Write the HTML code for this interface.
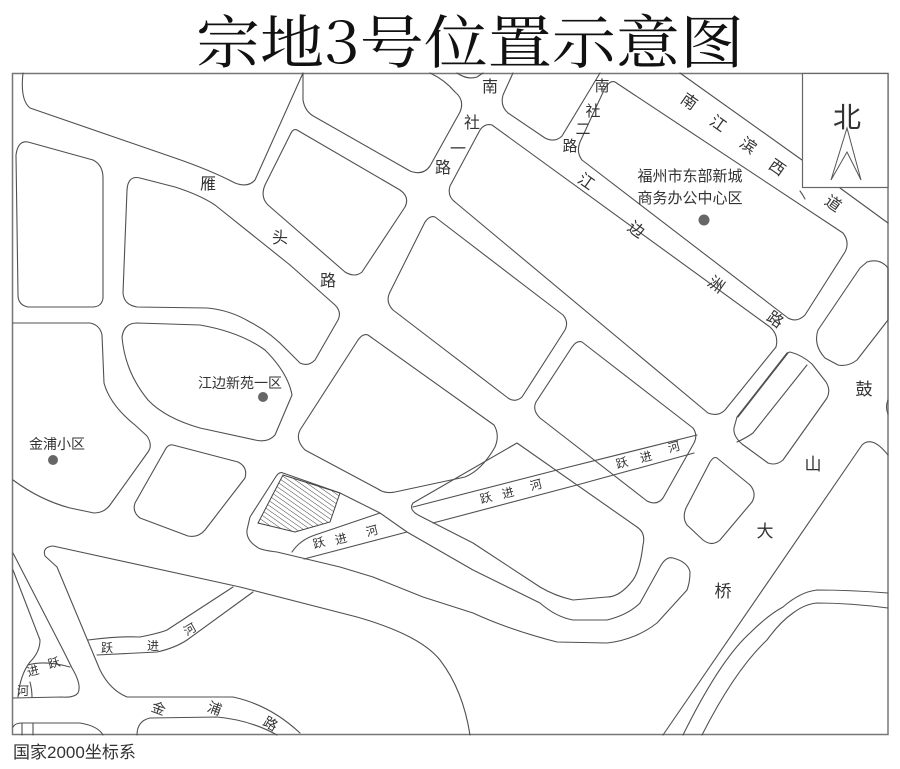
<!DOCTYPE html>
<html><head><meta charset="utf-8"><style>
html,body{margin:0;padding:0;background:#fff;}
svg{display:block;}
.l{fill:none;stroke:#505050;stroke-width:1.1;stroke-linejoin:round;stroke-linecap:round;}
.t{font-family:"Liberation Sans","Noto Sans CJK SC",sans-serif;fill:#333;}
</style></head><body>
<svg width="900" height="769" viewBox="0 0 900 769" xmlns="http://www.w3.org/2000/svg">
<defs>
<pattern id="h" width="4" height="4" patternUnits="userSpaceOnUse" patternTransform="rotate(-55)">
<line x1="0" y1="0" x2="0" y2="4" stroke="#444" stroke-width="1"/>
</pattern>
</defs>
<rect width="900" height="769" fill="#fff"/>
<text x="470" y="63" text-anchor="middle" font-family="'Noto Serif CJK SC','Liberation Serif',serif" font-size="58" textLength="548" lengthAdjust="spacingAndGlyphs" fill="#111">宗地3号位置示意图</text>

<!-- frame -->
<rect x="12.5" y="73.5" width="875.5" height="661" fill="none" stroke="#777" stroke-width="1.5"/>

<g class="l">
<!-- top-left block -->
<path d="M23,73 Q20,100 30,108 L175,158 Q210,170 235,183 Q248,188 255,180 L303,73"/>
<!-- left block -->
<path d="M28,142 L93,160 Q103,165 103,178 L103,298 Q102,307 92,307 L28,307 Q18,305 18,295 L16,155 Q18,140 28,142 Z"/>
<!-- 雁 lower block -->
<path d="M140,178 L175,187 Q200,195 215,205 L290,265 L335,305 Q342,312 338,320 L315,360 Q308,367 300,363 L287,350 Q270,332 250,322 Q230,310 207,308 L137,307 Q124,305 123,293 L127,190 Q128,175 140,178 Z"/>
<!-- 江边新苑 block -->
<path d="M137,323 L200,325 Q240,332 265,350 Q288,373 292,395 L275,435 Q268,443 255,440 L200,428 Q165,418 148,400 Q125,372 122,337 Q124,323 137,323 Z"/>
<!-- 金浦小区 block -->
<path d="M13,323 L90,323 Q100,325 102,335 L104,383 Q110,405 135,425 L147,436 Q153,445 148,452 L110,505 Q104,513 94,513 L70,508 Q40,500 13,480"/>
<!-- block N -->
<path d="M173,445 L238,462 Q248,467 245,478 L205,530 Q198,538 188,536 L140,518 Q132,512 135,503 L165,450 Q168,444 173,445 Z"/>
<!-- top-middle block -->
<path d="M303,73 L303,100 Q305,112 315,117 L410,171 Q423,176 430,166 L460,112 Q465,100 455,92 Q445,80 430,73"/>
<path d="M457,73 Q467,80 477,77 L483,73"/>
<!-- block Q -->
<path d="M297,130 L400,190 Q410,197 405,207 L362,272 Q355,278 345,272 L268,205 Q260,197 265,185 L290,135 Q293,128 297,130 Z"/>
<!-- block C -->
<path d="M435,217 L563,315 Q569,322 565,330 L522,397 Q515,403 508,398 L393,310 Q385,302 390,292 L425,222 Q430,215 435,217 Z"/>
<!-- block D -->
<path d="M368,335 L494,425 Q500,435 495,447 Q482,470 465,477 L395,492 Q385,494 378,489 L305,450 Q295,440 300,430 L358,340 Q363,333 368,335 Z"/>
<!-- block E -->
<path d="M582,342 L693,428 Q698,435 694,443 L663,498 Q657,506 647,501 L540,418 Q532,410 536,402 L572,347 Q577,340 582,342 Z"/>
<!-- block G -->
<path d="M513,73 L503,95 Q500,106 508,113 L545,138 Q555,143 562,136 L600,73"/>
<!-- block 福州 -->
<path d="M615,82 L843,233 Q850,242 845,252 L805,315 Q797,323 788,318 L582,160 Q576,152 580,142 L605,88 Q610,80 615,82 Z"/>
<!-- block H -->
<path d="M492,125 L770,327 Q779,335 776,347 L725,410 Q718,417 708,413 L455,202 Q447,196 450,186 L480,130 Q485,123 492,125 Z"/>
<!-- 南江滨 lines -->
<path d="M680,73 L802,160"/>
<path d="M840,188 L888,223"/>
<path d="M800,191 Q803,195 805,199"/>
<!-- block J -->
<path d="M867,262 Q880,258 888,268 L888,320 L857,360 Q848,367 838,365 L825,358 Q813,345 818,330 L860,268 Z"/>
<!-- block K -->
<path d="M790,352 Q802,355 812,364 L826,382 Q831,390 827,398 L783,460 Q776,466 768,463 L742,444 Q733,436 734,428 L737,417 L787,353 Z"/>
<path d="M738,417 L788,353"/>
<path d="M737,442 Q746,438 753,433 L807,365"/>
<!-- block I -->
<path d="M717,458 L750,485 Q757,493 752,502 L720,540 Q712,547 703,540 L687,525 Q682,518 686,508 L710,462 Q714,456 717,458 Z"/>
<!-- right region -->
<path d="M663,735 L862,445 Q872,435 888,455"/>
<path d="M888,400 Q885,407 888,414"/>
<path d="M683,735 Q720,660 750,633 Q768,615 783,607 Q800,592 817,590 Q850,590 888,593"/>
<path d="M702,735 Q735,670 767,640 Q780,622 793,613 Q805,604 817,603 Q850,603 888,608"/>
<!-- block F -->
<path d="M517,443 L637,527 Q646,533 643,545 Q640,570 633,580 Q620,597 607,597 L573,600 Q555,596 540,587 L473,543 L420,516 Q408,510 413,503 Z"/>
<!-- block O with hook -->
<path d="M283,473 L340,493 L380,513 L407,532 L473,570 L540,603 Q556,617 573,620 L607,620 Q628,615 640,603 L660,567 Q666,556 673,558 Q688,562 690,572 Q690,582 687,590 L657,623 Q635,640 607,643 L557,642 Q510,630 473,613 L423,597 L373,577 L340,567 L277,552 Q260,550 257,547 Q246,540 247,530 L250,517 L275,478 Q279,471 283,473 Z"/>
<!-- rivers 跃进河 -->
<path d="M413,507 L557,470 L697,435"/>
<path d="M433,523 L577,485 L694,453"/>
<path d="M292,552 Q300,540 315,535 L380,513"/>
<path d="M304,559 L407,532"/>
<!-- region P -->
<path d="M53,546 L240,587 L357,617 Q420,635 440,660 Q463,690 470,735"/>
<path d="M53,546 Q42,547 45,556 L57,567 L100,670 Q110,690 127,697 L233,697 Q270,705 300,733"/>
<path d="M88,640 Q120,636 140,637 Q160,633 167,630 L233,587"/>
<path d="M97,655 L157,652 Q175,648 187,640 L253,592"/>
<!-- bottom-left lines -->
<path d="M13,553 L63,650 L72,668 Q82,685 78,693 Q74,698 62,697 L13,698"/>
<path d="M13,570 L40,640 Q40,652 30,662 Q20,675 18,697"/>
<path d="M28,665 Q45,660 70,667"/>
<path d="M30,682 Q32,690 32,697"/>
<path d="M13,727 Q15,723 22,723 L80,723 Q98,726 103,735"/>
<path d="M22,723 L22,735 M33,723 L33,735"/>
<path d="M137,735 Q137,721 150,718 L217,717 Q250,720 277,735"/>
</g>
<!-- parcel -->
<polygon points="283,475 340,493 330,522 295,532 258,523" fill="url(#h)" stroke="#444" stroke-width="1"/>

<!-- north box -->
<rect x="802.5" y="73.5" width="85.5" height="114" fill="#fff" stroke="#666" stroke-width="1.2"/>
<text x="847" y="127" text-anchor="middle" class="t" font-size="28" fill="#444">北</text>
<polygon points="847,128 861,180 847,152 831,180" fill="none" stroke="#555" stroke-width="1"/>

<!-- dots -->
<circle cx="704" cy="220" r="5.5" fill="#666"/>
<circle cx="263" cy="397" r="5" fill="#666"/>
<circle cx="53" cy="460" r="5" fill="#666"/>

<g class="t" font-size="15" text-anchor="middle">
<text x="690" y="181">福州市东部新城</text>
<text x="690" y="203">商务办公中心区</text>
<text x="240" y="388" font-size="14">江边新苑一区</text>
<text x="57" y="449" font-size="14">金浦小区</text>
<text x="208" y="189" font-size="16">雁</text>
<text x="280" y="243" font-size="16">头</text>
<text x="328" y="286" font-size="16">路</text>
<text x="490" y="92" font-size="16">南</text>
<text x="472" y="128" font-size="16">社</text>
<text x="458" y="154" font-size="16">一</text>
<text x="443" y="173" font-size="16">路</text>
<text x="602" y="91" font-size="15">南</text>
<text x="593" y="116" font-size="15">社</text>
<text x="583" y="134" font-size="15">二</text>
<text x="570" y="151" font-size="15">路</text>
<text transform="translate(686,106) rotate(35)" font-size="16">南</text>
<text transform="translate(715,128) rotate(35)" font-size="16">江</text>
<text transform="translate(745,150) rotate(35)" font-size="16">滨</text>
<text transform="translate(774,172) rotate(35)" font-size="16">西</text>
<text transform="translate(830,208) rotate(35)" font-size="16">道</text>
<text transform="translate(583,186) rotate(35)" font-size="16">江</text>
<text transform="translate(633,234) rotate(35)" font-size="16">边</text>
<text transform="translate(713,289) rotate(35)" font-size="16">洲</text>
<text transform="translate(772,324) rotate(35)" font-size="16">路</text>
<text x="864" y="395" font-size="17">鼓</text>
<text x="813" y="470" font-size="17">山</text>
<text x="765" y="537" font-size="17">大</text>
<text x="723" y="597" font-size="17">桥</text>
<g font-size="12">
<text transform="translate(623,467) rotate(-15)">跃</text>
<text transform="translate(647,461) rotate(-15)">进</text>
<text transform="translate(675,451) rotate(-15)">河</text>
<text transform="translate(487,502) rotate(-15)">跃</text>
<text transform="translate(509,497) rotate(-15)">进</text>
<text transform="translate(537,489) rotate(-15)">河</text>
<text transform="translate(320,547) rotate(-15)">跃</text>
<text transform="translate(342,543) rotate(-15)">进</text>
<text transform="translate(373,535) rotate(-15)">河</text>
<text transform="translate(107,652)">跃</text>
<text transform="translate(153,650)">进</text>
<text transform="translate(192,633) rotate(-30)">河</text>
<text transform="translate(55,667) rotate(-15)">跃</text>
<text transform="translate(34,675) rotate(-15)">进</text>
<text transform="translate(23,695)">河</text>
</g>
<text transform="translate(157,713) rotate(20)" font-size="14">金</text>
<text transform="translate(213,713) rotate(20)" font-size="14">浦</text>
<text transform="translate(268,728) rotate(30)" font-size="14">路</text>
</g>
<text x="13" y="758" class="t" font-size="17" fill="#444">国家2000坐标系</text>
</svg>
</body></html>
